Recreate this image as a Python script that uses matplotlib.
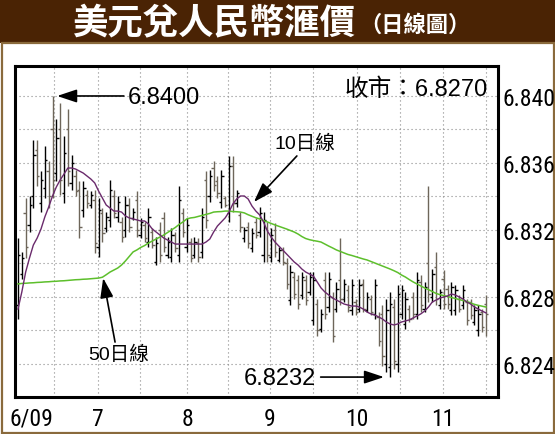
import matplotlib
matplotlib.use("Agg")
import matplotlib.pyplot as plt
from matplotlib.patches import Rectangle
from matplotlib import font_manager as fm
import numpy as np

# ---------------- data ----------------
highs = [6.8315, 6.8307, 6.8339, 6.8340, 6.8374, 6.8374, 6.8355, 6.8370, 6.8361, 6.8400,
         6.8386, 6.8396, 6.8376, 6.8392, 6.8365, 6.8356, 6.8349, 6.8349, 6.8344, 6.8343,
         6.8344, 6.8339, 6.8333, 6.8331, 6.8350, 6.8344, 6.8340, 6.8328, 6.8340, 6.8339,
         6.8333, 6.8343, 6.8327, 6.8325, 6.8333, 6.8321, 6.8316, 6.8325, 6.8331, 6.8316,
         6.8321, 6.8319, 6.8346, 6.8333, 6.8327, 6.8315, 6.8316, 6.8315, 6.8333, 6.8355,
         6.8356, 6.8361, 6.8352, 6.8356, 6.8340, 6.8364, 6.8364, 6.8344, 6.8331, 6.8322,
         6.8325, 6.8321, 6.8327, 6.8334, 6.8331, 6.8325, 6.8321, 6.8324, 6.8310, 6.8310,
         6.8303, 6.8299, 6.8295, 6.8293, 6.8295, 6.8293, 6.8295, 6.8295, 6.8279, 6.8273,
         6.8295, 6.8295, 6.8283, 6.8289, 6.8315, 6.8291, 6.8287, 6.8291, 6.8279, 6.8291,
         6.8291, 6.8283, 6.8281, 6.8291, 6.8271, 6.8275, 6.8279, 6.8283, 6.8279, 6.8287,
         6.8287, 6.8283, 6.8275, 6.8283, 6.8295, 6.8293, 6.8289, 6.8346, 6.8297, 6.8307,
         6.8285, 6.8296, 6.8287, 6.8289, 6.8287, 6.8281, 6.8287, 6.8279, 6.8279, 6.8275,
         6.8275, 6.8273, 6.8281]
lows = [6.8267, 6.8291, 6.8303, 6.8319, 6.8333, 6.8346, 6.8331, 6.8339, 6.8333, 6.8339,
        6.8349, 6.8341, 6.8336, 6.8346, 6.8344, 6.8340, 6.8315, 6.8328, 6.8333, 6.8333,
        6.8306, 6.8304, 6.8313, 6.8319, 6.8322, 6.8327, 6.8325, 6.8313, 6.8316, 6.8319,
        6.8326, 6.8316, 6.8315, 6.8313, 6.8310, 6.8309, 6.8299, 6.8301, 6.8307, 6.8303,
        6.8301, 6.8307, 6.8301, 6.8316, 6.8307, 6.8301, 6.8303, 6.8301, 6.8303, 6.8321,
        6.8337, 6.8343, 6.8339, 6.8333, 6.8334, 6.8325, 6.8331, 6.8334, 6.8319, 6.8313,
        6.8309, 6.8307, 6.8315, 6.8316, 6.8301, 6.8301, 6.8301, 6.8304, 6.8301, 6.8299,
        6.8285, 6.8275, 6.8279, 6.8273, 6.8279, 6.8275, 6.8281, 6.8263, 6.8257, 6.8259,
        6.8267, 6.8271, 6.8253, 6.8271, 6.8275, 6.8277, 6.8271, 6.8269, 6.8269, 6.8271,
        6.8271, 6.8271, 6.8269, 6.8267, 6.8251, 6.8239, 6.8235, 6.8232, 6.8237, 6.8235,
        6.8267, 6.8261, 6.8265, 6.8267, 6.8267, 6.8271, 6.8271, 6.8277, 6.8277, 6.8275,
        6.8273, 6.8273, 6.8273, 6.8269, 6.8269, 6.8271, 6.8273, 6.8263, 6.8267, 6.8263,
        6.8257, 6.8259, 6.8257]
opens = [6.8275, 6.8294, 6.8330, 6.8323, 6.8340, 6.8368, 6.8336, 6.8345, 6.8355, 6.8380,
         6.8354, 6.8380, 6.8342, 6.8380, 6.8348, 6.8352, 6.8344, 6.8332, 6.8341, 6.8335,
         6.8338, 6.8310, 6.8330, 6.8321, 6.8326, 6.8340, 6.8328, 6.8325, 6.8320, 6.8335,
         6.8327, 6.8338, 6.8317, 6.8323, 6.8313, 6.8319, 6.8301, 6.8320, 6.8327, 6.8305,
         6.8304, 6.8317, 6.8305, 6.8330, 6.8310, 6.8313, 6.8305, 6.8312, 6.8307, 6.8350,
         6.8340, 6.8357, 6.8349, 6.8337, 6.8339, 6.8330, 6.8358, 6.8336, 6.8329, 6.8315,
         6.8322, 6.8309, 6.8325, 6.8319, 6.8305, 6.8321, 6.8304, 6.8320, 6.8302, 6.8308,
         6.8300, 6.8278, 6.8292, 6.8290, 6.8281, 6.8290, 6.8283, 6.8266, 6.8276, 6.8261,
         6.8290, 6.8274, 6.8280, 6.8273, 6.8290, 6.8279, 6.8284, 6.8272, 6.8277, 6.8273,
         6.8288, 6.8272, 6.8279, 6.8270, 6.8268, 6.8270, 6.8240, 6.8238, 6.8274, 6.8240,
         6.8270, 6.8264, 6.8273, 6.8280, 6.8270, 6.8289, 6.8273, 6.8300, 6.8280, 6.8298,
         6.8275, 6.8291, 6.8285, 6.8272, 6.8272, 6.8279, 6.8275, 6.8277, 6.8277, 6.8265,
         6.8260, 6.8271, 6.8276]
closes = [6.8305, 6.8303, 6.8310, 6.8335, 6.8365, 6.8352, 6.8350, 6.8362, 6.8340, 6.8350,
          6.8375, 6.8350, 6.8366, 6.8355, 6.8360, 6.8343, 6.8322, 6.8345, 6.8336, 6.8341,
          6.8312, 6.8332, 6.8318, 6.8328, 6.8344, 6.8330, 6.8337, 6.8316, 6.8335, 6.8322,
          6.8331, 6.8320, 6.8325, 6.8315, 6.8328, 6.8311, 6.8312, 6.8305, 6.8310, 6.8313,
          6.8317, 6.8309, 6.8338, 6.8319, 6.8323, 6.8303, 6.8313, 6.8304, 6.8328, 6.8326,
          6.8352, 6.8347, 6.8342, 6.8352, 6.8335, 6.8358, 6.8336, 6.8342, 6.8322, 6.8320,
          6.8312, 6.8318, 6.8317, 6.8330, 6.8326, 6.8305, 6.8317, 6.8307, 6.8308, 6.8301,
          6.8288, 6.8295, 6.8282, 6.8276, 6.8292, 6.8278, 6.8292, 6.8290, 6.8260, 6.8270,
          6.8270, 6.8291, 6.8257, 6.8285, 6.8279, 6.8288, 6.8274, 6.8287, 6.8271, 6.8287,
          6.8273, 6.8280, 6.8271, 6.8287, 6.8254, 6.8245, 6.8272, 6.8276, 6.8242, 6.8282,
          6.8284, 6.8279, 6.8267, 6.8270, 6.8290, 6.8275, 6.8286, 6.8282, 6.8294, 6.8279,
          6.8283, 6.8276, 6.8276, 6.8286, 6.8284, 6.8273, 6.8284, 6.8266, 6.8269, 6.8272,
          6.8270, 6.8262, 6.8270]
ma10 = [6.82728, 6.82830, 6.82949, 6.83033, 6.83110, 6.83152, 6.83206, 6.83278, 6.83337, 6.83403,
        6.83457, 6.83499, 6.83534, 6.83570, 6.83570, 6.83564, 6.83552, 6.83540, 6.83522, 6.83504,
        6.83481, 6.83433, 6.83391, 6.83349, 6.83331, 6.83313, 6.83313, 6.83307, 6.83284, 6.83272,
        6.83266, 6.83260, 6.83254, 6.83254, 6.83236, 6.83206, 6.83188, 6.83170, 6.83152, 6.83140,
        6.83128, 6.83116, 6.83116, 6.83116, 6.83116, 6.83116, 6.83116, 6.83116, 6.83116, 6.83128,
        6.83146, 6.83188, 6.83224, 6.83248, 6.83272, 6.83307, 6.83355, 6.83385, 6.83403, 6.83403,
        6.83385, 6.83343, 6.83313, 6.83290, 6.83248, 6.83194, 6.83158, 6.83128, 6.83104, 6.83081,
        6.83057, 6.83033, 6.83009, 6.82991, 6.82967, 6.82949, 6.82937, 6.82925, 6.82890, 6.82854,
        6.82830, 6.82812, 6.82794, 6.82782, 6.82770, 6.82758, 6.82752, 6.82746, 6.82746, 6.82740,
        6.82728, 6.82710, 6.82699, 6.82693, 6.82681, 6.82669, 6.82651, 6.82639, 6.82633, 6.82639,
        6.82651, 6.82657, 6.82663, 6.82675, 6.82687, 6.82699, 6.82716, 6.82740, 6.82770, 6.82782,
        6.82794, 6.82800, 6.82806, 6.82818, 6.82812, 6.82800, 6.82788, 6.82770, 6.82758, 6.82740,
        6.82728, 6.82716, 6.82705]
ma50 = [6.82878, 6.82881, 6.82882, 6.82884, 6.82885, 6.82887, 6.82888, 6.82890, 6.82891, 6.82893,
        6.82894, 6.82896, 6.82897, 6.82899, 6.82901, 6.82903, 6.82904, 6.82906, 6.82907, 6.82909,
        6.82911, 6.82913, 6.82918, 6.82933, 6.82949, 6.82961, 6.82973, 6.82991, 6.83015, 6.83042,
        6.83069, 6.83081, 6.83096, 6.83107, 6.83122, 6.83134, 6.83146, 6.83158, 6.83170, 6.83185,
        6.83200, 6.83215, 6.83233, 6.83248, 6.83266, 6.83272, 6.83275, 6.83281, 6.83287, 6.83293,
        6.83299, 6.83307, 6.83309, 6.83310, 6.83313, 6.83313, 6.83310, 6.83309, 6.83307, 6.83302,
        6.83291, 6.83282, 6.83273, 6.83266, 6.83256, 6.83248, 6.83239, 6.83230, 6.83222, 6.83214,
        6.83206, 6.83197, 6.83188, 6.83176, 6.83161, 6.83149, 6.83142, 6.83137, 6.83133, 6.83128,
        6.83116, 6.83104, 6.83093, 6.83081, 6.83072, 6.83063, 6.83054, 6.83048, 6.83041, 6.83034,
        6.83027, 6.83021, 6.83012, 6.83003, 6.82994, 6.82985, 6.82976, 6.82967, 6.82957, 6.82946,
        6.82931, 6.82919, 6.82904, 6.82890, 6.82878, 6.82866, 6.82854, 6.82844, 6.82833, 6.82821,
        6.82814, 6.82808, 6.82803, 6.82797, 6.82791, 6.82785, 6.82779, 6.82773, 6.82764, 6.82756,
        6.82750, 6.82745, 6.82740]

month_labels = ["6/09", "7", "8", "9", "10", "11"]
month_pos = [3.4, 20.9, 44.1, 65.7, 88.4, 110.8]
grid_x = [9.4, 20.9, 31.8, 44.1, 54.7, 65.7, 76.9, 88.4, 99.6, 110.8, 122.0]
y_ticks = [6.824, 6.828, 6.832, 6.836, 6.840]
y_grid = [6.824, 6.826, 6.828, 6.830, 6.832, 6.834, 6.836, 6.838, 6.840]

title_main = "美元兌人民幣滙價"
title_sub = "（日線圖）"
close_label = "收市：6.8270"
high_label = "6.8400"
low_label = "6.8232"
ma10_label = "10日線"
ma50_label = "50日線"

# ---------------- fonts ----------------
LAT = "Liberation Sans"
CJK = "Noto Sans CJK TC"


def narrow_props(size):
    """A condensed sans face if one is installed, else Liberation Sans."""
    cands = []
    for f in fm.fontManager.ttflist:
        st = str(f.stretch)
        if ("Narrow" in f.name or st in ("condensed", "semi-condensed", "extra-condensed")
                or "Condensed" in f.fname) and f.style == "normal" and \
                str(f.weight) in ("400", "normal", "regular", "book", "medium", "500"):
            cands.append(f)
    pref = ["Liberation Sans Narrow", "Roboto Condensed", "DejaVu Sans", "Open Sans"]
    for p in pref:
        for f in cands:
            if f.name == p:
                return fm.FontProperties(fname=f.fname, size=size), True
    if cands:
        return fm.FontProperties(fname=cands[0].fname, size=size), True
    return fm.FontProperties(family=LAT, size=size - 2.5), False


tick_fp, is_narrow = narrow_props(17)

# ---------------- figure ----------------
W, H = 555, 435
fig = plt.figure(figsize=(W / 100, H / 100), dpi=100)
fig.patch.set_facecolor("white")


def fx(px):
    return px / W


def fy(py):
    return 1 - py / H


# header band and frame
fig.add_artist(Rectangle((0, fy(44)), 1, 44 / H, transform=fig.transFigure,
                         facecolor="#4a2304", edgecolor="none", zorder=0))
fig.add_artist(Rectangle((fx(1.5), fy(433.5)), fx(553.5) - fx(1.5), fy(44) - fy(433.5),
                         transform=fig.transFigure, facecolor="white",
                         edgecolor="#8a6a3c", linewidth=1.6, zorder=0))

fig.text(fx(356), fy(24), title_main, ha="right", va="center", color="white",
         fontsize=25.5, fontweight="bold", family=CJK)
fig.text(fx(359), fy(25), title_sub, ha="left", va="center", color="white",
         fontsize=16, fontweight="bold", family=CJK)

ax = fig.add_axes([fx(15), fy(398), fx(498) - fx(15), fy(67) - fy(398)])
ax.set_facecolor("white")

x = np.arange(len(highs))
o = np.array(opens)
c = np.array(closes)
cols = np.where(c >= o, "#000000", "#6e665a")

grid_style = dict(color="#8a8a8a", linewidth=0.8, linestyle=(0, (1, 2.6)), zorder=1)
for gx in grid_x:
    ax.axvline(gx, **grid_style)
for gy in y_grid:
    ax.axhline(gy, **grid_style)

ax.vlines(x, lows, highs, colors=cols, linewidth=1.0, zorder=2)
ax.hlines(o, x - 0.6, x, colors=cols, linewidth=1.0, zorder=2)
ax.hlines(c, x, x + 0.6, colors=cols, linewidth=1.0, zorder=2)

ax.plot(x, ma50, color="#5dbf2c", linewidth=1.1, zorder=3)
ax.plot(x, ma10, color="#6a2a6c", linewidth=1.0, zorder=3)

ax.set_xlim(-0.78, 125.13)
ax.set_ylim(6.82203, 6.84179)

ax.set_xticks(month_pos)
ax.set_xticklabels(month_labels)
ax.set_yticks(y_ticks)
ax.set_yticklabels([f"{v:.3f}" for v in y_ticks])
ax.yaxis.tick_right()
ax.tick_params(axis="both", length=0, colors="black")
ax.tick_params(axis="y", pad=3)
ax.tick_params(axis="x", pad=7)
for lab in ax.get_xticklabels() + ax.get_yticklabels():
    lab.set_fontproperties(tick_fp)

for sp in ax.spines.values():
    sp.set_linewidth(2.2)
    sp.set_color("black")

arrow = dict(arrowstyle="-|>,head_length=1.2,head_width=0.4", color="black",
             linewidth=1.2, shrinkA=0, shrinkB=0, mutation_scale=10)

# annotations
ax.text(28.7, 6.83994, high_label, ha="left", va="center", fontsize=17, family=LAT)
ax.annotate("", xy=(10.2, 6.8400), xytext=(27.6, 6.8400), arrowprops=arrow)

ax.text(122.6, 6.84042, close_label, ha="right", va="center", fontsize=17,
        family=[LAT, CJK])

ax.text(74.8, 6.83719, ma10_label, ha="center", va="center", fontsize=14,
        family=[LAT, CJK])
ax.annotate("", xy=(61.5, 6.83367), xytext=(72.7, 6.83642), arrowprops=arrow)

ax.text(26.3, 6.82460, ma50_label, ha="center", va="center", fontsize=14,
        family=[LAT, CJK])
ax.annotate("", xy=(22.2, 6.82913), xytext=(25.3, 6.82531), arrowprops=arrow)

ax.text(77.7, 6.82317, low_label, ha="right", va="center", fontsize=17, family=LAT)
ax.annotate("", xy=(95.4, 6.82322), xytext=(78.9, 6.82322), arrowprops=arrow)

fig.savefig("out.png", dpi=100, facecolor="white")
